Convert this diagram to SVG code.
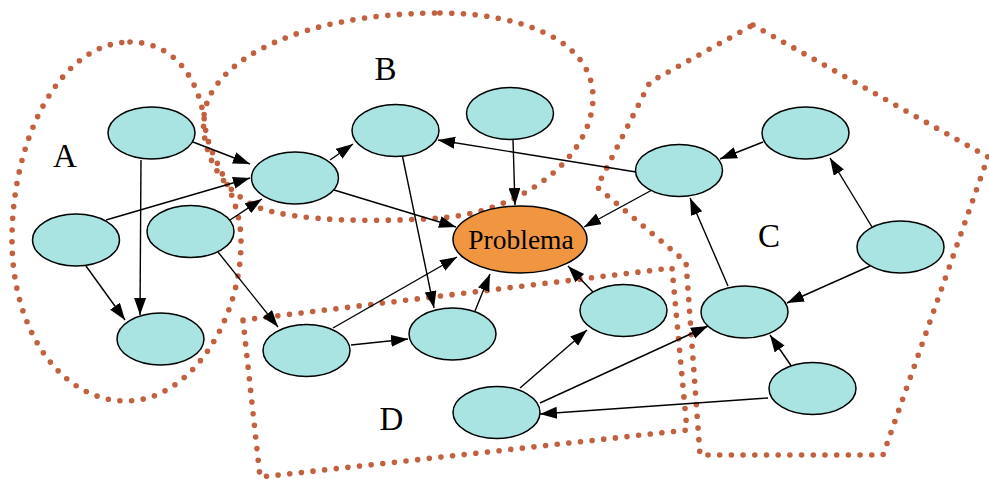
<svg xmlns="http://www.w3.org/2000/svg" width="989" height="479" viewBox="0 0 989 479">
<style>
.region{fill:none;stroke:#c2613f;stroke-width:5.6;stroke-linecap:round;stroke-linejoin:round;stroke-dasharray:0 11.7}
.node{fill:#a9e4e2;stroke:#000;stroke-width:1.5}
.prob{fill:#f19640;stroke:#000;stroke-width:1.5}
.edge{stroke:#000;stroke-width:1.4;fill:none;marker-end:url(#arr)}
.lbl{font-family:"Liberation Serif","Times New Roman",serif;font-size:33px;fill:#000}
.ptxt{font-family:"Liberation Serif","Times New Roman",serif;font-size:27.5px;fill:#000}
</style>
<defs>
<marker id="arr" markerUnits="userSpaceOnUse" markerWidth="19" markerHeight="14" refX="17" refY="6" orient="auto">
<path d="M0,0 L17,6 L0,12 Z" fill="#000"/>
</marker>
</defs>
<rect width="989" height="479" fill="#fff"/>
<g id="regions">
<path id="regionA" class="region" d="M130,42 C175,42 200,80 205,125 C208,160 240,190 241,240 C242,320 190,402 125,401 C60,400 12,330 12,240 C12,135 62,42 130,42 Z"/>
<path id="regionB" class="region" d="M440,13 C520,13 595,40 593,100 C590,160 520,212 440,218 C380,222 300,222 260,208 C215,190 198,140 205,110 C215,60 300,13 440,13 Z"/>
<polygon id="regionC" class="region" points="753,25 988,157 883,455 700,455 686,262 597,187 650,82"/>
<polygon id="regionD" class="region" points="243,320 672,268 687,430 260,477"/>
</g>
<g id="labels">
<text class="lbl" x="65" y="167" text-anchor="middle">A</text>
<text class="lbl" x="385.5" y="80" text-anchor="middle">B</text>
<text class="lbl" x="769" y="247" text-anchor="middle">C</text>
<text class="lbl" x="391.5" y="430" text-anchor="middle">D</text>
</g>
<g id="connectors">
<line class="edge" x1="193" y1="142" x2="250" y2="164"/>
<line class="edge" x1="141" y1="160" x2="140" y2="315"/>
<line class="edge" x1="106" y1="220" x2="250" y2="178"/>
<line class="edge" x1="86" y1="266" x2="125" y2="320"/>
<line class="edge" x1="230" y1="220" x2="262" y2="199"/>
<line class="edge" x1="218" y1="252" x2="278" y2="327"/>
<line class="edge" x1="330" y1="160" x2="353" y2="144"/>
<line class="edge" x1="334" y1="190" x2="456" y2="227"/>
<line class="edge" x1="402" y1="154" x2="434" y2="308"/>
<line class="edge" x1="513" y1="140" x2="515" y2="205"/>
<line class="edge" x1="636" y1="172" x2="438" y2="140"/>
<line class="edge" x1="652" y1="190" x2="584" y2="227"/>
<line class="edge" x1="763" y1="142" x2="720" y2="159"/>
<line class="edge" x1="872" y1="227" x2="830" y2="158"/>
<line class="edge" x1="870" y1="266" x2="787" y2="303"/>
<line class="edge" x1="728" y1="286" x2="690" y2="198"/>
<line class="edge" x1="792" y1="367" x2="770" y2="335"/>
<line class="edge" x1="768" y1="398" x2="540" y2="414"/>
<line class="edge" x1="540" y1="403" x2="708" y2="326"/>
<line class="edge" x1="520" y1="388" x2="587" y2="330"/>
<line class="edge" x1="593" y1="292" x2="568" y2="266"/>
<line class="edge" x1="333" y1="328" x2="457" y2="257"/>
<line class="edge" x1="351" y1="345" x2="408" y2="339"/>
<line class="edge" x1="475" y1="311" x2="490" y2="274"/>
</g>
<g id="n1"><ellipse class="node" cx="151.5" cy="133" rx="43.5" ry="26"/></g>
<g id="n2"><ellipse class="node" cx="76" cy="240" rx="43.5" ry="26"/></g>
<g id="n3"><ellipse class="node" cx="190.5" cy="231.5" rx="43.5" ry="26"/></g>
<g id="n4"><ellipse class="node" cx="160.5" cy="339" rx="43.5" ry="26"/></g>
<g id="n5"><ellipse class="node" cx="295" cy="178" rx="43.5" ry="26"/></g>
<g id="n6"><ellipse class="node" cx="306.5" cy="350.5" rx="43.5" ry="26"/></g>
<g id="n7"><ellipse class="node" cx="395.5" cy="130.5" rx="43.5" ry="26"/></g>
<g id="n8"><ellipse class="node" cx="510" cy="113.5" rx="43.5" ry="26"/></g>
<g id="problema"><ellipse class="prob" cx="520" cy="239.5" rx="67" ry="33.5"/><text class="ptxt" x="521" y="248.5" text-anchor="middle">Problema</text></g>
<g id="n9"><ellipse class="node" cx="452.5" cy="334" rx="43.5" ry="26"/></g>
<g id="n10"><ellipse class="node" cx="623.5" cy="310.5" rx="43.5" ry="26"/></g>
<g id="n11"><ellipse class="node" cx="496.5" cy="412.5" rx="43.5" ry="26"/></g>
<g id="n12"><ellipse class="node" cx="679" cy="170.5" rx="43.5" ry="26"/></g>
<g id="n13"><ellipse class="node" cx="805.5" cy="133" rx="43.5" ry="26"/></g>
<g id="n14"><ellipse class="node" cx="900.5" cy="247" rx="43.5" ry="26"/></g>
<g id="n15"><ellipse class="node" cx="744.5" cy="312" rx="43.5" ry="26"/></g>
<g id="n16"><ellipse class="node" cx="812.5" cy="388.5" rx="43.5" ry="26"/></g>
</svg>
